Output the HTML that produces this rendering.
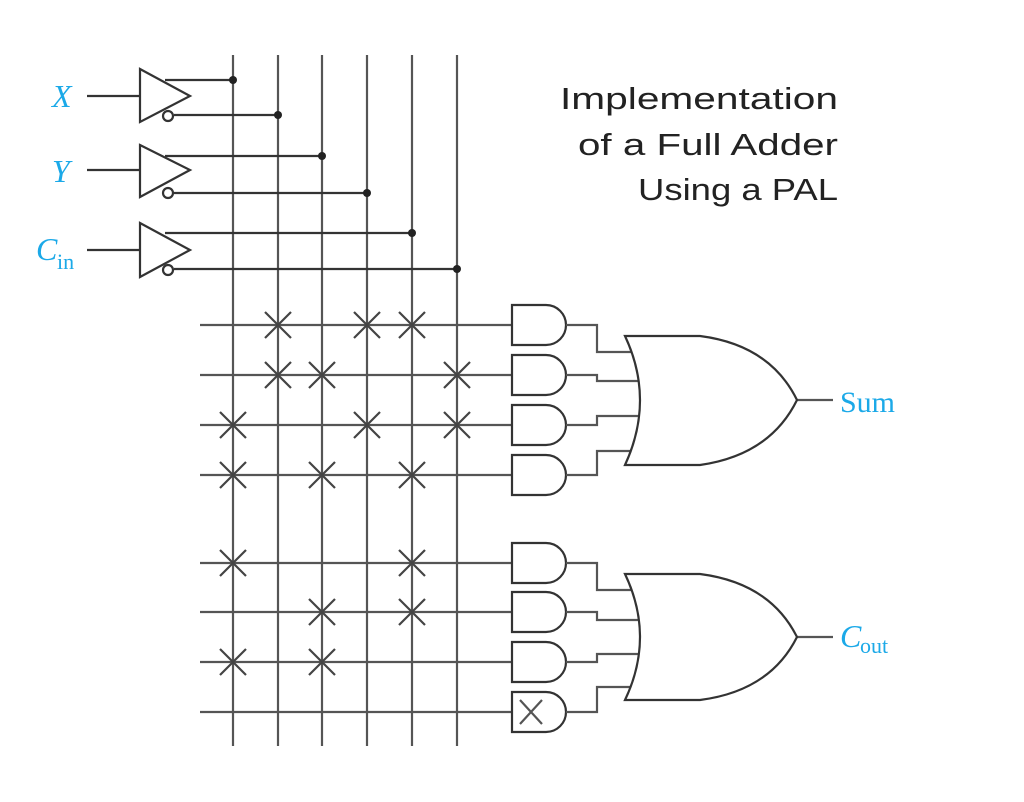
<!DOCTYPE html>
<html><head><meta charset="utf-8"><style>
html,body{margin:0;padding:0;background:#fff;}
svg{display:block;}
</style></head><body>
<svg width="1024" height="802" viewBox="0 0 1024 802" xmlns="http://www.w3.org/2000/svg">
<g stroke="#555" stroke-width="2.2" fill="none">
  <line x1="233" y1="55" x2="233" y2="746"/>
  <line x1="278" y1="55" x2="278" y2="746"/>
  <line x1="322" y1="55" x2="322" y2="746"/>
  <line x1="367" y1="55" x2="367" y2="746"/>
  <line x1="412" y1="55" x2="412" y2="746"/>
  <line x1="457" y1="55" x2="457" y2="746"/>
  <line x1="200" y1="325" x2="512" y2="325"/>
  <line x1="200" y1="375" x2="512" y2="375"/>
  <line x1="200" y1="425" x2="512" y2="425"/>
  <line x1="200" y1="475" x2="512" y2="475"/>
  <line x1="200" y1="563" x2="512" y2="563"/>
  <line x1="200" y1="612" x2="512" y2="612"/>
  <line x1="200" y1="662" x2="512" y2="662"/>
  <line x1="200" y1="712" x2="512" y2="712"/>
</g>
<g stroke="#333" stroke-width="2.2" fill="none">
  <line x1="87" y1="96" x2="140" y2="96"/>
  <polygon points="140,69 190,96 140,122" fill="#fff"/>
  <line x1="165" y1="80" x2="233" y2="80"/>
  <line x1="174" y1="115" x2="278" y2="115"/>
  <circle cx="168" cy="116" r="5" fill="#fff"/>
  <line x1="87" y1="170" x2="140" y2="170"/>
  <polygon points="140,145 190,170 140,197" fill="#fff"/>
  <line x1="165" y1="156" x2="322" y2="156"/>
  <line x1="174" y1="193" x2="367" y2="193"/>
  <circle cx="168" cy="193" r="5" fill="#fff"/>
  <line x1="87" y1="250" x2="140" y2="250"/>
  <polygon points="140,223 190,250 140,277" fill="#fff"/>
  <line x1="165" y1="233" x2="412" y2="233"/>
  <line x1="174" y1="269" x2="457" y2="269"/>
  <circle cx="168" cy="270" r="5" fill="#fff"/>
</g>
<g fill="#222">
  <circle cx="233" cy="80" r="4"/><circle cx="278" cy="115" r="4"/>
  <circle cx="322" cy="156" r="4"/><circle cx="367" cy="193" r="4"/>
  <circle cx="412" cy="233" r="4"/><circle cx="457" cy="269" r="4"/>
</g>
<g stroke="#444" stroke-width="2.2">
  <path d="M265,312l26,26M291,312l-26,26 M354,312l26,26M380,312l-26,26 M399,312l26,26M425,312l-26,26
  M265,362l26,26M291,362l-26,26 M309,362l26,26M335,362l-26,26 M444,362l26,26M470,362l-26,26
  M220,412l26,26M246,412l-26,26 M354,412l26,26M380,412l-26,26 M444,412l26,26M470,412l-26,26
  M220,462l26,26M246,462l-26,26 M309,462l26,26M335,462l-26,26 M399,462l26,26M425,462l-26,26
  M220,550l26,26M246,550l-26,26 M399,550l26,26M425,550l-26,26
  M309,599l26,26M335,599l-26,26 M399,599l26,26M425,599l-26,26
  M220,649l26,26M246,649l-26,26 M309,649l26,26M335,649l-26,26"/>
</g>
<g stroke="#333" stroke-width="2.2" fill="#fff">
  <path d="M512,305 H546 A20,20 0 0 1 546,345 H512 Z"/>
  <path d="M512,355 H546 A20,20 0 0 1 546,395 H512 Z"/>
  <path d="M512,405 H546 A20,20 0 0 1 546,445 H512 Z"/>
  <path d="M512,455 H546 A20,20 0 0 1 546,495 H512 Z"/>
  <path d="M512,543 H546 A20,20 0 0 1 546,583 H512 Z"/>
  <path d="M512,592 H546 A20,20 0 0 1 546,632 H512 Z"/>
  <path d="M512,642 H546 A20,20 0 0 1 546,682 H512 Z"/>
  <path d="M512,692 H546 A20,20 0 0 1 546,732 H512 Z"/>
</g>
<g stroke="#555" stroke-width="2.2" fill="none">
  <path d="M520,700 l22,24 M542,700 l-22,24"/>
  <path d="M566,325 H597 V352 H638"/>
  <path d="M566,375 H597 V381 H640"/>
  <path d="M566,425 H597 V416 H640"/>
  <path d="M566,475 H597 V451 H638"/>
  <path d="M566,563 H597 V590 H638"/>
  <path d="M566,612 H597 V620 H640"/>
  <path d="M566,662 H597 V654 H640"/>
  <path d="M566,712 H597 V687 H638"/>
  <line x1="797" y1="400" x2="833" y2="400"/>
  <line x1="797" y1="637" x2="833" y2="637"/>
</g>
<g stroke="#333" stroke-width="2.2" fill="#fff">
  <path d="M625,336 H700 Q770,345 797,400 Q770,455 700,465 H625 Q655,400 625,336 Z"/>
  <path d="M625,574 H700 Q770,583 797,637 Q770,691 700,700 H625 Q655,637 625,574 Z"/>
</g>
<g fill="#1ba9e8" font-family="Liberation Serif, serif">
  <text x="52" y="107" font-size="32" font-style="italic">X</text>
  <text x="52" y="182" font-size="32" font-style="italic">Y</text>
  <text x="36" y="260" font-size="32" font-style="italic">C</text>
  <text x="57" y="269" font-size="22">in</text>
  <text x="840" y="412" font-size="30">Sum</text>
  <text x="840" y="647" font-size="32" font-style="italic">C</text>
  <text x="860" y="653" font-size="22">out</text>
</g>
<g fill="#222" font-family="Liberation Sans, sans-serif" font-size="31" text-anchor="end">
  <text x="838" y="109" textLength="278" lengthAdjust="spacingAndGlyphs">Implementation</text>
  <text x="838" y="155" textLength="260" lengthAdjust="spacingAndGlyphs">of a Full Adder</text>
  <text x="838" y="200" textLength="200" lengthAdjust="spacingAndGlyphs">Using a PAL</text>
</g>
</svg>
</body></html>
